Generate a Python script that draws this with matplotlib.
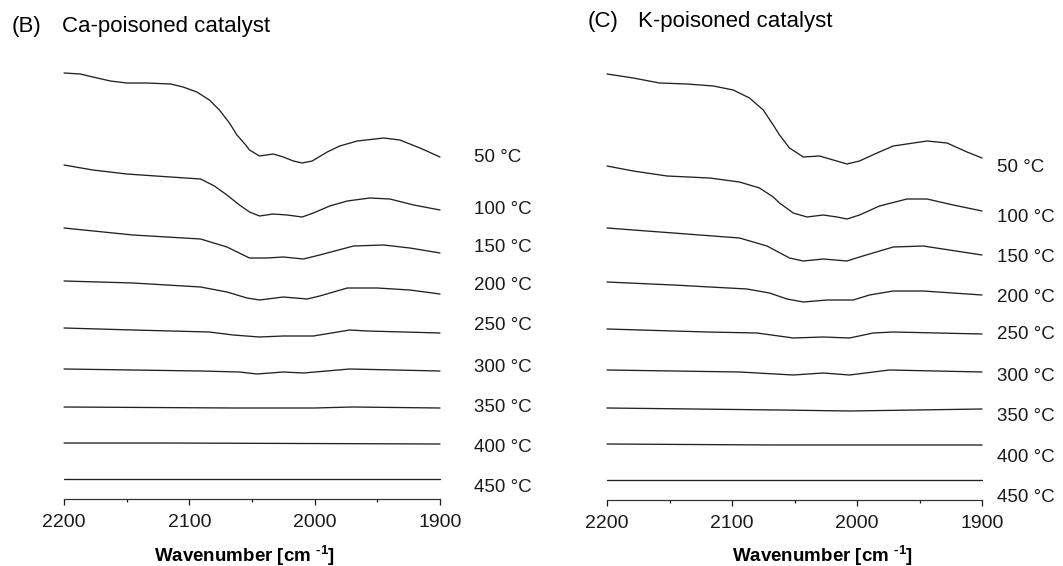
import matplotlib
matplotlib.use("Agg")
import matplotlib.pyplot as plt
from matplotlib.ticker import MultipleLocator

plt.rcParams['font.family'] = ['Liberation Sans', 'DejaVu Sans']
plt.rcParams['mathtext.fontset'] = 'custom'
plt.rcParams['mathtext.rm'] = 'Liberation Sans'
plt.rcParams['mathtext.bf'] = 'Liberation Sans:bold'

temps = ["50 °C", "100 °C", "150 °C", "200 °C", "250 °C", "300 °C", "350 °C", "400 °C", "450 °C"]

# ---- Ca-poisoned catalyst (B) ----  wavenumber [cm-1] / absorbance offset (a.u.)
ca_50_w = [2200, 2187, 2177, 2163, 2150, 2134, 2115, 2105, 2094, 2084, 2076, 2068, 2062, 2055, 2052, 2044,
           2033, 2025, 2017, 2010, 2002, 1990, 1980, 1966, 1945, 1932, 1916, 1900]
ca_50_a = [4.26, 4.25, 4.22, 4.18, 4.16, 4.16, 4.15, 4.12, 4.07, 3.99, 3.89, 3.76, 3.64, 3.54, 3.49, 3.43,
           3.45, 3.42, 3.38, 3.36, 3.38, 3.47, 3.53, 3.58, 3.61, 3.59, 3.51, 3.42]
ca_100_w = [2200, 2177, 2150, 2115, 2091, 2080, 2070, 2060, 2052, 2044, 2033, 2022, 2010, 2001, 1988, 1974,
            1956, 1940, 1921, 1900]
ca_100_a = [3.34, 3.29, 3.25, 3.22, 3.20, 3.13, 3.04, 2.94, 2.87, 2.83, 2.85, 2.84, 2.82, 2.86, 2.93, 2.98,
            3.01, 3.00, 2.94, 2.89]
ca_150_w = [2200, 2145, 2091, 2070, 2052, 2038, 2025, 2009, 1996, 1969, 1945, 1924, 1900]
ca_150_a = [2.71, 2.64, 2.60, 2.52, 2.41, 2.41, 2.42, 2.40, 2.44, 2.53, 2.54, 2.51, 2.46]
ca_200_w = [2200, 2145, 2091, 2070, 2054, 2044, 2025, 2006, 1996, 1974, 1950, 1924, 1900]
ca_200_a = [2.18, 2.16, 2.12, 2.07, 2.01, 1.99, 2.02, 2.00, 2.03, 2.11, 2.11, 2.09, 2.05]
ca_250_w = [2200, 2145, 2084, 2065, 2044, 2025, 2001, 1972, 1958, 1900]
ca_250_a = [1.71, 1.69, 1.67, 1.64, 1.62, 1.63, 1.63, 1.69, 1.68, 1.66]
ca_300_w = [2200, 2091, 2060, 2046, 2025, 2009, 1972, 1900]
ca_300_a = [1.30, 1.28, 1.27, 1.25, 1.27, 1.26, 1.30, 1.28]
ca_350_w = [2200, 2065, 2000, 1970, 1900]
ca_350_a = [0.92, 0.91, 0.91, 0.92, 0.91]
ca_400_w = [2200, 2120, 1900]
ca_400_a = [0.56, 0.56, 0.55]
ca_450_w = [2200, 1900]
ca_450_a = [0.20, 0.20]

# ---- K-poisoned catalyst (C) ----
k_50_w = [2200, 2179, 2158, 2136, 2115, 2099, 2086, 2075, 2067, 2062, 2054, 2043, 2030, 2019, 2008, 1998,
          1984, 1971, 1944, 1928, 1912, 1900]
k_50_a = [4.26, 4.22, 4.17, 4.16, 4.14, 4.10, 4.02, 3.90, 3.75, 3.65, 3.52, 3.43, 3.44, 3.40, 3.36, 3.39,
          3.47, 3.54, 3.59, 3.57, 3.48, 3.42]
k_100_w = [2200, 2179, 2152, 2118, 2094, 2078, 2067, 2062, 2051, 2040, 2027, 2016, 2008, 1998, 1982, 1960,
           1944, 1923, 1900]
k_100_a = [3.34, 3.29, 3.24, 3.22, 3.18, 3.12, 3.03, 2.97, 2.87, 2.83, 2.85, 2.83, 2.81, 2.85, 2.94, 3.01,
           3.01, 2.95, 2.89]
k_150_w = [2200, 2094, 2072, 2054, 2043, 2027, 2008, 1998, 1971, 1947, 1900]
k_150_a = [2.72, 2.62, 2.54, 2.42, 2.39, 2.41, 2.39, 2.43, 2.53, 2.54, 2.45]
k_200_w = [2200, 2147, 2088, 2070, 2056, 2043, 2024, 2003, 1990, 1971, 1947, 1900]
k_200_a = [2.18, 2.15, 2.11, 2.07, 2.01, 1.98, 2.00, 2.00, 2.05, 2.09, 2.09, 2.05]
k_250_w = [2200, 2120, 2080, 2051, 2027, 2006, 1987, 1971, 1900]
k_250_a = [1.71, 1.68, 1.67, 1.62, 1.63, 1.62, 1.67, 1.68, 1.66]
k_300_w = [2200, 2094, 2051, 2027, 2006, 1974, 1900]
k_300_a = [1.30, 1.28, 1.25, 1.27, 1.25, 1.30, 1.28]
k_350_w = [2200, 2062, 2006, 1900]
k_350_a = [0.92, 0.90, 0.89, 0.91]
k_400_w = [2200, 2067, 1900]
k_400_a = [0.56, 0.55, 0.55]
k_450_w = [2200, 1900]
k_450_a = [0.20, 0.20]

# label vertical positions (a.u.)
ca_label_y = [3.41, 2.90, 2.52, 2.13, 1.74, 1.32, 0.91, 0.51, 0.12]
k_label_y = [3.32, 2.82, 2.42, 2.03, 1.65, 1.23, 0.83, 0.42, 0.03]

x_ticks = [2200, 2100, 2000, 1900]

ca_series = [(ca_50_w, ca_50_a), (ca_100_w, ca_100_a), (ca_150_w, ca_150_a),
             (ca_200_w, ca_200_a), (ca_250_w, ca_250_a), (ca_300_w, ca_300_a),
             (ca_350_w, ca_350_a), (ca_400_w, ca_400_a), (ca_450_w, ca_450_a)]
k_series = [(k_50_w, k_50_a), (k_100_w, k_100_a), (k_150_w, k_150_a),
            (k_200_w, k_200_a), (k_250_w, k_250_a), (k_300_w, k_300_a),
            (k_350_w, k_350_a), (k_400_w, k_400_a), (k_450_w, k_450_a)]

W, H = 1063, 566
fig = plt.figure(figsize=(W / 100, H / 100), dpi=100)

def make_axes(x0, x1, ybot, ytop):
    return fig.add_axes([x0 / W, 1 - ybot / H, (x1 - x0) / W, (ybot - ytop) / H])

axL = make_axes(64, 440, 499, 60)
axR = make_axes(607, 982, 500, 61)

xlabel = 'Wavenumber [cm $^{\\mathbf{\u2010 1}}$]'

def style(ax, series, label_y, label_x, xlab_x, xlab_y):
    for (w, a) in series:
        ax.plot(w, a, color='#222222', lw=0.95, clip_on=False,
                solid_joinstyle='round', solid_capstyle='round')
    for t, y in zip(temps, label_y):
        ax.text(label_x, y, t, fontsize=13.5, ha='left', va='center', color='#1a1a1a', clip_on=False)
    ax.set_xlim(2200, 1900)
    ax.set_ylim(0, 4.39)
    for s in ['left', 'right', 'top']:
        ax.spines[s].set_visible(False)
    ax.spines['bottom'].set_color('#333333')
    ax.spines['bottom'].set_linewidth(0.9)
    ax.set_yticks([])
    ax.set_xticks(x_ticks)
    ax.xaxis.set_minor_locator(MultipleLocator(50))
    ax.tick_params(axis='x', which='major', length=4, width=0.9, pad=7, labelsize=14, colors='#1a1a1a')
    ax.tick_params(axis='x', which='minor', length=2.5, width=0.9, colors='#1a1a1a')
    ax.set_xlabel(xlabel, fontsize=13.5, fontweight='bold')
    ax.xaxis.set_label_coords(xlab_x, xlab_y)
    ax.patch.set_alpha(0)

style(axL, ca_series, ca_label_y, 1873, 0.479, -0.100)
style(axR, k_series, k_label_y, 1888, 0.576, -0.098)

fig.text(11.5 / W, 1 - 32 / H, "(B)", fontsize=16, ha='left', va='baseline')
fig.text(61.5 / W, 1 - 32 / H, "Ca-poisoned catalyst", fontsize=16, ha='left', va='baseline')
fig.text(588 / W, 1 - 27 / H, "(C)", fontsize=16, ha='left', va='baseline')
fig.text(638 / W, 1 - 27 / H, "K-poisoned catalyst", fontsize=16, ha='left', va='baseline')

fig.savefig("out.png", dpi=100)
